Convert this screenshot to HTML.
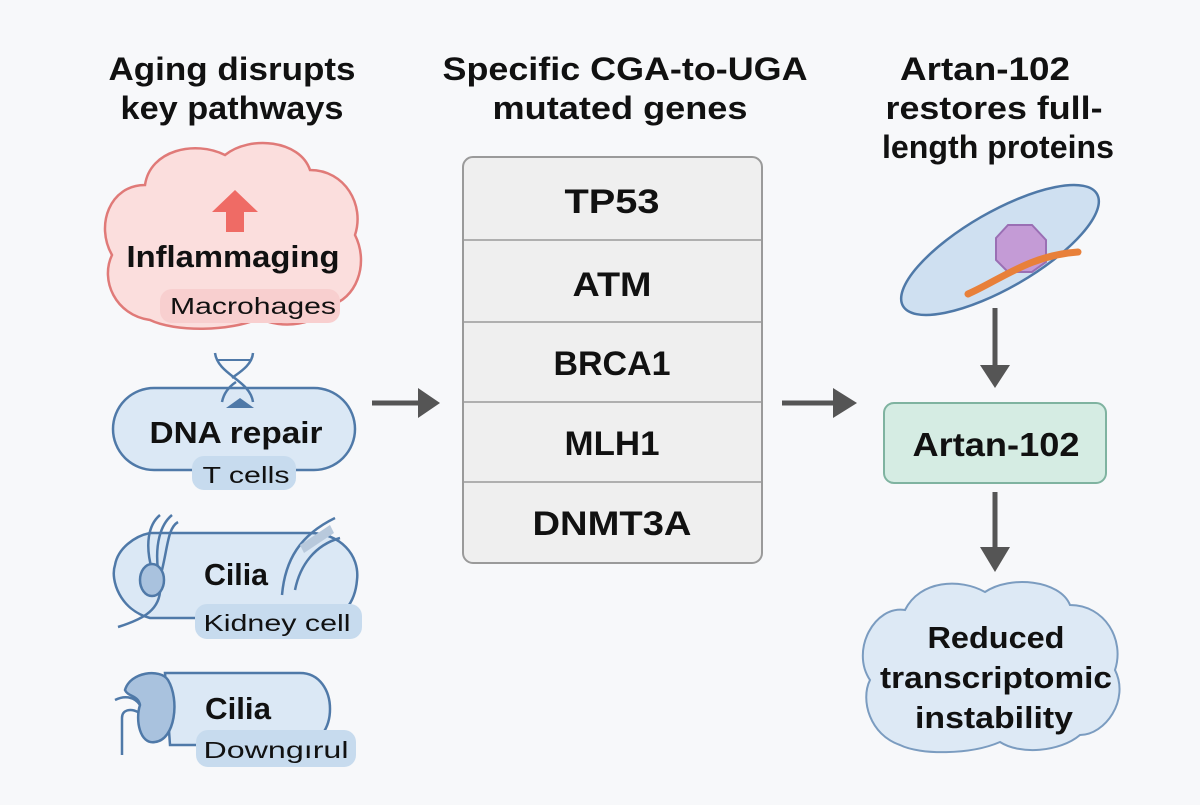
<!DOCTYPE html>
<html><head><meta charset="utf-8"><style>
html,body{margin:0;padding:0;background:#f7f8fa;}
svg text{font-family:"Liberation Sans",sans-serif;font-weight:bold;fill:#111;text-anchor:middle;}
svg text.n{font-weight:normal;}
</style></head><body>
<svg width="1200" height="800" viewBox="0 0 1200 800" xmlns="http://www.w3.org/2000/svg">
<rect width="1200" height="800" fill="#f7f8fa"/>
<!-- titles -->
<text x="232" y="80" font-size="32" textLength="247" lengthAdjust="spacingAndGlyphs">Aging disrupts</text>
<text x="232" y="119" font-size="32" textLength="223" lengthAdjust="spacingAndGlyphs">key pathways</text>
<text x="625" y="80" font-size="32" textLength="365" lengthAdjust="spacingAndGlyphs">Specific CGA-to-UGA</text>
<text x="620" y="119" font-size="32" textLength="255" lengthAdjust="spacingAndGlyphs">mutated genes</text>
<text x="985" y="80" font-size="32" textLength="170" lengthAdjust="spacingAndGlyphs">Artan-102</text>
<text x="994" y="119" font-size="32" textLength="217" lengthAdjust="spacingAndGlyphs">restores full-</text>
<text x="998" y="158" font-size="32" textLength="232" lengthAdjust="spacingAndGlyphs">length proteins</text>

<!-- inflammaging cloud -->
<path d="M150,320 C115,315 100,280 112,255 C95,225 110,185 145,185 C150,150 195,140 225,155 C250,135 300,140 310,170 C345,170 365,205 355,235 C370,265 355,300 330,305 C320,325 280,330 260,318 C230,332 175,332 150,320 Z" fill="#fbdedd" stroke="#e07a78" stroke-width="2.5"/>
<polygon points="235,190 212,212 226,212 226,232 244,232 244,212 258,212" fill="#ef6b65"/>
<text x="233" y="267" font-size="31" textLength="213" lengthAdjust="spacingAndGlyphs">Inflammaging</text>
<rect x="160" y="289" width="180" height="34" rx="12" fill="#f8cfcf"/>
<text class="n" x="253" y="314" font-size="23" textLength="166" lengthAdjust="spacingAndGlyphs">Macrohages</text>

<!-- DNA repair -->
<rect x="113" y="388" width="242" height="82" rx="41" fill="#dbe8f5" stroke="#4f79a8" stroke-width="2.5"/>
<path d="M215,353 C218,375 250,380 253,402 M253,353 C252,365 240,372 232,378 M222,402 C224,392 230,386 236,382" fill="none" stroke="#4f79a8" stroke-width="2.5"/>
<line x1="218" y1="360" x2="250" y2="360" stroke="#4f79a8" stroke-width="2"/>
<polygon points="226,408 240,398 254,408" fill="#4f79a8"/>
<text x="236" y="443" font-size="31" textLength="173" lengthAdjust="spacingAndGlyphs">DNA repair</text>
<rect x="192" y="456" width="104" height="34" rx="12" fill="#c7dbee"/>
<text class="n" x="246" y="483" font-size="23" textLength="87" lengthAdjust="spacingAndGlyphs">T cells</text>

<!-- cilia kidney -->
<path d="M175,533 L310,533 C340,533 360,555 357,580 C355,605 340,618 330,618 L150,618 C120,610 110,580 115,565 C118,548 135,536 150,533 Z" fill="#dbe8f5" stroke="#4f79a8" stroke-width="2.5"/>
<path d="M118,627 C140,620 158,612 160,592 M152,570 C145,545 148,525 160,515 M158,570 C155,545 160,525 172,515 M162,570 C168,545 168,528 178,522" fill="none" stroke="#4f79a8" stroke-width="2.5"/>
<ellipse cx="152" cy="580" rx="12" ry="16" fill="#a9c2de" stroke="#4f79a8" stroke-width="2.5"/>
<path d="M282,595 C285,560 300,535 335,518 M295,590 C300,565 315,545 340,538" fill="none" stroke="#4f79a8" stroke-width="2.5"/>
<polygon points="300,545 330,525 334,533 304,553" fill="#b8c9dc"/>
<text x="236" y="585" font-size="31" textLength="64" lengthAdjust="spacingAndGlyphs">Cilia</text>
<rect x="195" y="604" width="167" height="35" rx="12" fill="#c7dbee"/>
<text class="n" x="277" y="631" font-size="23" textLength="147" lengthAdjust="spacingAndGlyphs">Kidney cell</text>

<!-- cilia 2 -->
<path d="M165,673 L300,673 C340,673 340,745 300,745 L170,745 Z" fill="#dbe8f5" stroke="#4f79a8" stroke-width="2.5"/>
<path d="M125,690 C130,672 160,668 168,680 C180,700 175,740 155,742 C140,745 135,720 140,705 C138,695 128,697 125,690 Z" fill="#a9c2de" stroke="#4f79a8" stroke-width="2.5"/>
<path d="M115,700 C125,695 135,697 140,705 M122,755 L122,718 C122,710 130,708 138,712" fill="none" stroke="#4f79a8" stroke-width="2.5"/>
<text x="238" y="719" font-size="31" textLength="66" lengthAdjust="spacingAndGlyphs">Cilia</text>
<rect x="196" y="730" width="160" height="37" rx="12" fill="#c7dbee"/>
<text class="n" x="276" y="758" font-size="23" textLength="145" lengthAdjust="spacingAndGlyphs">Downgırul</text>

<!-- arrows -->
<g stroke="#555" stroke-width="5" fill="#555">
<line x1="372" y1="403" x2="420" y2="403"/>
<polygon points="418,388 440,403 418,418" stroke="none"/>
<line x1="782" y1="403" x2="835" y2="403"/>
<polygon points="833,388 857,403 833,418" stroke="none"/>
<line x1="995" y1="308" x2="995" y2="368"/>
<polygon points="980,365 1010,365 995,388" stroke="none"/>
<line x1="995" y1="492" x2="995" y2="550"/>
<polygon points="980,547 1010,547 995,572" stroke="none"/>
</g>

<!-- table -->
<rect x="463" y="157" width="299" height="406" rx="10" fill="#efefef" stroke="#9a9a9a" stroke-width="2"/>
<g stroke="#9a9a9a" stroke-width="1.5">
<line x1="463" y1="240" x2="762" y2="240"/><line x1="463" y1="322" x2="762" y2="322"/>
<line x1="463" y1="402" x2="762" y2="402"/><line x1="463" y1="482" x2="762" y2="482"/>
</g>
<text x="612" y="213" font-size="34" textLength="95" lengthAdjust="spacingAndGlyphs">TP53</text>
<text x="612" y="296" font-size="34" textLength="79" lengthAdjust="spacingAndGlyphs">ATM</text>
<text x="612" y="375" font-size="34" textLength="117" lengthAdjust="spacingAndGlyphs">BRCA1</text>
<text x="612" y="455" font-size="34" textLength="95" lengthAdjust="spacingAndGlyphs">MLH1</text>
<text x="612" y="535" font-size="34" textLength="159" lengthAdjust="spacingAndGlyphs">DNMT3A</text>

<!-- cell -->
<ellipse cx="1000" cy="250" rx="112" ry="38" transform="rotate(-30 1000 250)" fill="#cfe0f1" stroke="#4f79a8" stroke-width="2.5"/>
<polygon points="1008,225 1032,225 1046,240 1046,262 1032,272 1008,272 996,260 996,238" fill="#c49bd6" stroke="#9a6fb4" stroke-width="2"/>
<path d="M968,294 C1000,280 1030,255 1078,252" fill="none" stroke="#e8803a" stroke-width="7" stroke-linecap="round"/>

<!-- artan box -->
<rect x="884" y="403" width="222" height="80" rx="10" fill="#d5ece3" stroke="#7fb3a0" stroke-width="2"/>
<text x="996" y="456" font-size="33" textLength="167" lengthAdjust="spacingAndGlyphs">Artan-102</text>

<!-- cloud right -->
<path d="M900,745 C870,735 860,700 870,680 C850,650 875,605 905,610 C920,580 960,578 985,592 C1010,575 1060,580 1070,605 C1105,605 1125,640 1115,670 C1130,700 1105,735 1080,735 C1060,752 1020,755 1000,742 C970,755 920,755 900,745 Z" fill="#dde9f5" stroke="#7b9cc0" stroke-width="2"/>
<text x="996" y="648" font-size="31" textLength="137" lengthAdjust="spacingAndGlyphs">Reduced</text>
<text x="996" y="688" font-size="31" textLength="232" lengthAdjust="spacingAndGlyphs">transcriptomic</text>
<text x="994" y="728" font-size="31" textLength="158" lengthAdjust="spacingAndGlyphs">instability</text>
</svg>
</body></html>
